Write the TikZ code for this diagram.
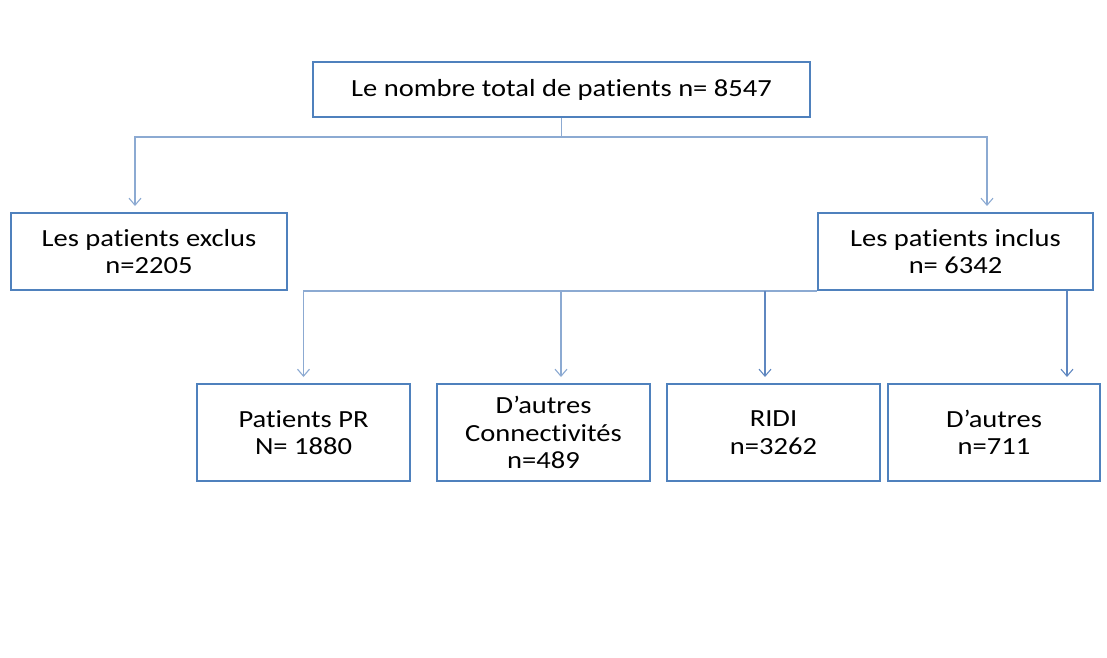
\documentclass[tikz,border=0pt]{standalone}
\usepackage{fontspec}
\setmainfont{Carlito}[FakeStretch=1.16, Ligatures=NoCommon]
\usetikzlibrary{arrows.meta}

\definecolor{boxblue}{RGB}{79,129,189}
\definecolor{linkblue}{RGB}{140,170,210}
\definecolor{linkdark}{RGB}{95,135,192}

\tikzset{
    flowbox/.style={draw=boxblue, line width=2pt, align=center, inner sep=0pt,
        font=\fontsize{24.6}{27.5}\selectfont},
    link/.style={draw=linkblue, line width=1.1pt},
    linkarrow/.style={link, -{Straight Barb[length=7pt,width=12pt]}, shorten >=6pt},
}

\begin{document}
\begin{tikzpicture}[x=1pt, y=-1pt] % pixel units, y pointing down
        % Fix the page to the reference size
        \useasboundingbox (0,0) rectangle (1107,657);

        % First level
        \node[flowbox, minimum width=497pt, minimum height=55pt] (total) at (561.5,89.5)
            {Le nombre total de patients n= 8547};

        % Second level
        \node[flowbox, minimum width=276pt, minimum height=77pt] (exclus) at (149,251.5)
            {Les patients exclus\\n=2205};
        \node[flowbox, minimum width=275pt, minimum height=77pt] (inclus) at (955.5,251.5)
            {Les patients inclus\\n= 6342};

        % Third level
        \node[flowbox, minimum width=213pt, minimum height=97pt] (pr) at (303.5,432.5)
            {Patients PR\\N= 1880};
        \node[flowbox, minimum width=213pt, minimum height=97pt] (connect) at (543.5,432.5)
            {D’autres\\Connectivités\\n=489};
        \node[flowbox, minimum width=213pt, minimum height=97pt] (ridi) at (773.5,432.5)
            {RIDI\\n=3262};
        \node[flowbox, minimum width=212pt, minimum height=97pt] (autres) at (994,432.5)
            {D’autres\\n=711};

        % Split below the total
        \coordinate (split) at (561.5,137);
        \draw[link] (total.south) -- (split);
        \draw[linkarrow] (split) -| ([xshift=-14pt]exclus.north);
        \draw[linkarrow] (split) -| ([xshift=31.5pt]inclus.north);

        % Bus below the included patients
        \coordinate (bus) at (inclus.south west);
        \draw[linkarrow] (bus) -| (pr.north);
        \draw[linkarrow] ([xshift=17.5pt]connect.north |- bus) -- ([xshift=17.5pt]connect.north);
        \draw[linkarrow, draw=linkdark] ([xshift=-8.5pt]ridi.north |- bus) -- ([xshift=-8.5pt]ridi.north);
        \draw[linkarrow, draw=linkdark] ([xshift=73pt]autres.north |- inclus.south) -- ([xshift=73pt]autres.north);

    \end{tikzpicture}
\end{document}
